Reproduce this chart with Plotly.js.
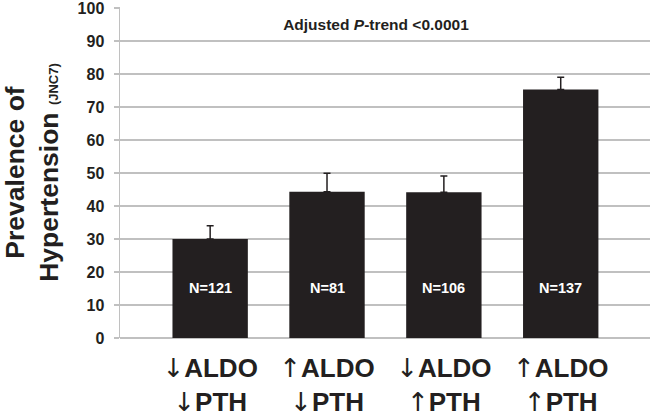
<!DOCTYPE html>
<html>
<head>
<meta charset="utf-8">
<script src="https://cdn.plot.ly/plotly-3.0.1.min.js"></script>
<style>html,body{margin:0;padding:0;background:#fff;}#chart{width:652px;height:420px;}</style>
</head>
<body>
<div id="chart"></div>
<script>
const categories = ['↓ALDO<br>↓PTH', '↑ALDO<br>↓PTH', '↓ALDO<br>↑PTH', '↑ALDO<br>↑PTH'];
const prevalence = [30.0, 44.3, 44.2, 75.3];
const errorPlus = [4.0, 5.6, 4.9, 3.7];
const nLabels = ['N=121', 'N=81', 'N=106', 'N=137'];
const nLabelY = [15.3, 15.3, 15.3, 15.3];
const yTicks = [0, 10, 20, 30, 40, 50, 60, 70, 80, 90, 100];

const ink = '#231f20';
const grid = '#c0c0c0';
const fam = 'Liberation Sans, DejaVu Sans, Arial, sans-serif';
const xIdx = categories.map((c, i) => i);
const tickText = categories.map(c => c.replace(/([↑↓])/g,
  '<span style="font-family:DejaVu Sans;font-weight:normal">$1</span>'));

const trace = {
  type: 'bar',
  x: xIdx,
  y: prevalence,
  width: 0.645,
  marker: {color: ink, line: {width: 0}},
  error_y: {type: 'data', symmetric: false, array: errorPlus, arrayminus: prevalence.map(() => 0),
            color: ink, thickness: 1.5, width: 3.5},
  hoverinfo: 'skip'
};

const annotations = nLabels.map((t, i) => ({
  x: i, y: nLabelY[i], xref: 'x', yref: 'y', text: t, showarrow: false,
  font: {family: fam, size: 14.5, color: '#ffffff', weight: 'bold'}
}));

const layout = {
  width: 652, height: 420,
  margin: {l: 120, r: 2, t: 7, b: 82},
  paper_bgcolor: '#ffffff', plot_bgcolor: '#ffffff',
  showlegend: false,
  title: {
    text: 'Adjusted <i>P</i>-trend &lt;0.0001',
    xref: 'paper', x: 0.483, xanchor: 'center',
    yref: 'container', y: 1 - 25/420, yanchor: 'middle',
    font: {family: fam, size: 15.5, color: ink, weight: 'bold'}
  },
  xaxis: {
    range: [-0.7715, 3.764],
    tickmode: 'array', tickvals: xIdx, ticktext: tickText,
    showgrid: false, zeroline: false, showline: false, ticks: '',
    ticklabelstandoff: 12,
    tickfont: {family: fam, size: 26, color: ink, weight: 'bold'},
    fixedrange: true
  },
  yaxis: {
    range: [0, 100.3],
    tickmode: 'array', tickvals: yTicks,
    showgrid: true, gridcolor: grid, gridwidth: 1.5,
    zeroline: true, zerolinecolor: grid, zerolinewidth: 1.5,
    showline: true, linecolor: grid, linewidth: 1.5,
    ticks: 'outside', ticklen: 5, tickcolor: grid, tickwidth: 1.5,
    ticklabelstandoff: 6,
    ticklabeloverflow: 'allow',
    tickfont: {family: fam, size: 16, color: ink, weight: 'bold'},
    title: {
      text: 'Prevalence of<br>Hypertension <span style="font-size:13px">(JNC7)</span>',
      standoff: 24,
      font: {family: fam, size: 26.5, color: ink, weight: 'bold'}
    },
    fixedrange: true
  },
  annotations: annotations
};

Plotly.newPlot('chart', [trace], layout, {displayModeBar: false, staticPlot: true});
</script>
</body>
</html>
